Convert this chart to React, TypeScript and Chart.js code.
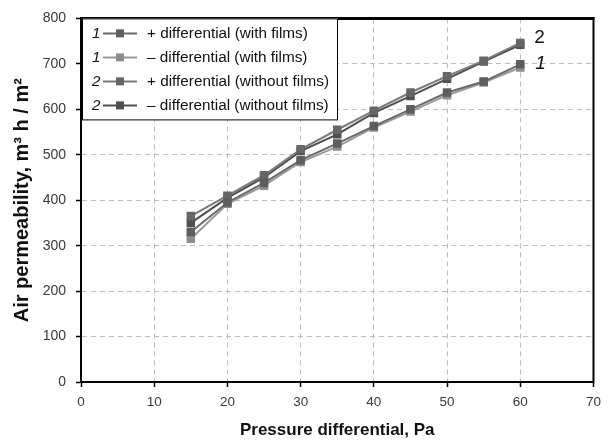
import React, { useEffect, useRef } from "react";
import { Chart, registerables } from "chart.js";

Chart.register(...registerables);

const pressure = [15, 20, 25, 30, 35, 40, 45, 50, 55, 60];
const plusWithFilms = [330, 395, 438, 488, 525, 563, 600, 637, 661, 699];
const minusWithFilms = [315, 392, 432, 484, 518, 560, 595, 631, 659, 692];
const plusWithoutFilms = [365, 410, 455, 512, 555, 597, 637, 673, 707, 746];
const minusWithoutFilms = [350, 405, 450, 508, 545, 592, 629, 667, 705, 742];
const seriesNames = [
  "+ differential (with films)",
  "\u2013 differential (with films)",
  "+ differential (without films)",
  "\u2013 differential (without films)",
];
const seriesNumbers = ["1", "1", "2", "2"];
const xTicks = [0, 10, 20, 30, 40, 50, 60, 70];
const yTicks = [0, 100, 200, 300, 400, 500, 600, 700, 800];

const FONT = "'Liberation Sans', Arial, sans-serif";
const lineColors = ["#6a6a6a", "#9a9a9a", "#7a7a7a", "#4e4e4e"];
const markerColors = ["#5e5e5e", "#8e8e8e", "#666666", "#505050"];

export default function App() {
  const ref = useRef<HTMLCanvasElement | null>(null);
  useEffect(() => {
    document.body.style.margin = "0";
    const canvas = ref.current;
    if (!canvas) return;
    const allSeries = [plusWithFilms, minusWithFilms, plusWithoutFilms, minusWithoutFilms];
    const datasets = allSeries.map((vals, i) => ({
      label: seriesNames[i],
      data: pressure.map((p, j) => ({ x: p, y: vals[j] })),
      borderColor: lineColors[i],
      backgroundColor: markerColors[i],
      pointBackgroundColor: markerColors[i],
      pointBorderColor: markerColors[i],
      borderWidth: 2,
      pointStyle: "rect" as const,
      pointRadius: 6,
      pointBorderWidth: 0,
      tension: 0,
    }));

    const framePlugin = {
      id: "frame",
      afterDatasetsDraw(chart: any) {
        const { ctx, chartArea: a } = chart;
        ctx.save();
        ctx.strokeStyle = "#000";
        ctx.lineWidth = 2;
        ctx.strokeRect(a.left, a.top, a.right - a.left, a.bottom - a.top);
        ctx.lineWidth = 3;
        ctx.beginPath();
        ctx.moveTo(a.left - 1, a.top);
        ctx.lineTo(a.right + 1, a.top);
        ctx.stroke();
        const xs = chart.scales.x;
        const ys = chart.scales.y;
        ctx.fillStyle = "#111";
        ctx.font = `19px ${FONT}`;
        ctx.textBaseline = "middle";
        ctx.textAlign = "left";
        const lastX = xs.getPixelForValue(pressure[pressure.length - 1]);
        ctx.fillText("2", lastX + 14, ys.getPixelForValue(plusWithoutFilms[plusWithoutFilms.length - 1]) - 5);
        ctx.font = `italic 19px ${FONT}`;
        ctx.fillText("1", lastX + 15, ys.getPixelForValue(plusWithFilms[plusWithFilms.length - 1]) - 1);
        ctx.restore();
      },
      afterDraw(chart: any) {
        const { ctx, chartArea: a } = chart;
        const left = a.left + 1;
        const top = a.top;
        const w = 256;
        const h = 102;
        ctx.save();
        ctx.fillStyle = "#fff";
        ctx.fillRect(left, top, w, h);
        ctx.strokeStyle = "#000";
        ctx.lineWidth = 1;
        ctx.strokeRect(left + 0.5, top + 0.5, w - 1, h - 1);
        ctx.textBaseline = "middle";
        for (let i = 0; i < 4; i++) {
          const y = top + 15 + i * 24;
          ctx.fillStyle = "#111";
          ctx.font = `italic 15px ${FONT}`;
          ctx.textAlign = "left";
          ctx.fillText(seriesNumbers[i], left + 10, y);
          ctx.strokeStyle = lineColors[i];
          ctx.lineWidth = 2;
          ctx.beginPath();
          ctx.moveTo(left + 21, y);
          ctx.lineTo(left + 55, y);
          ctx.stroke();
          ctx.fillStyle = markerColors[i];
          ctx.fillRect(left + 34, y - 4, 8, 8);
          ctx.fillStyle = "#111";
          ctx.font = `15.3px ${FONT}`;
          ctx.fillText(seriesNames[i], left + 65, y);
        }
        ctx.restore();
      },
    };

    const chart = new Chart(canvas, {
      type: "line",
      data: { datasets },
      options: {
        animation: false,
        responsive: false,
        layout: { padding: { left: 0, right: 9, top: 17, bottom: 0 } },
        plugins: { legend: { display: false }, tooltip: { enabled: false } },
        scales: {
          x: {
            type: "linear",
            min: 0,
            max: 70,
            afterBuildTicks: (s: any) => {
              s.ticks = xTicks.map((v) => ({ value: v }));
            },
            afterFit: (s: any) => {
              s.height = 58;
            },
            ticks: {
              color: "#3a3a3a",
              font: { family: FONT, size: 13.5 },
              padding: 7,
              maxRotation: 0,
              autoSkip: false,
            },
            grid: {
              color: "#bdbdbd",
              lineWidth: 1,
              tickLength: 5,
              tickColor: "#000",
              tickWidth: 1.5,
            },
            border: { display: true, color: "#000", width: 2, dash: [5, 4] },
            title: {
              display: true,
              text: "Pressure differential, Pa",
              color: "#111",
              font: { family: FONT, size: 17, weight: "bold", lineHeight: 1 },
              padding: { top: 0, bottom: 1 },
            },
          },
          y: {
            type: "linear",
            min: 0,
            max: 800,
            afterBuildTicks: (s: any) => {
              s.ticks = yTicks.map((v) => ({ value: v }));
            },
            afterFit: (s: any) => {
              s.width = 81;
            },
            ticks: {
              color: "#3a3a3a",
              font: { family: FONT, size: 14 },
              padding: 10,
              autoSkip: false,
            },
            grid: {
              color: "#bdbdbd",
              lineWidth: 1,
              tickLength: 5,
              tickColor: "#000",
              tickWidth: 1.5,
            },
            border: { display: true, color: "#000", width: 2, dash: [5, 4] },
            title: {
              display: true,
              text: "Air permeability, m\u00b3 h / m\u00b2",
              color: "#111",
              font: { family: FONT, size: 20, weight: "bold" },
              padding: { top: 10, bottom: 0 },
            },
          },
        },
      },
      plugins: [framePlugin],
    });
    return () => chart.destroy();
  }, []);
  return <canvas ref={ref} width={608} height={440} style={{ display: "block" }} />;
}
